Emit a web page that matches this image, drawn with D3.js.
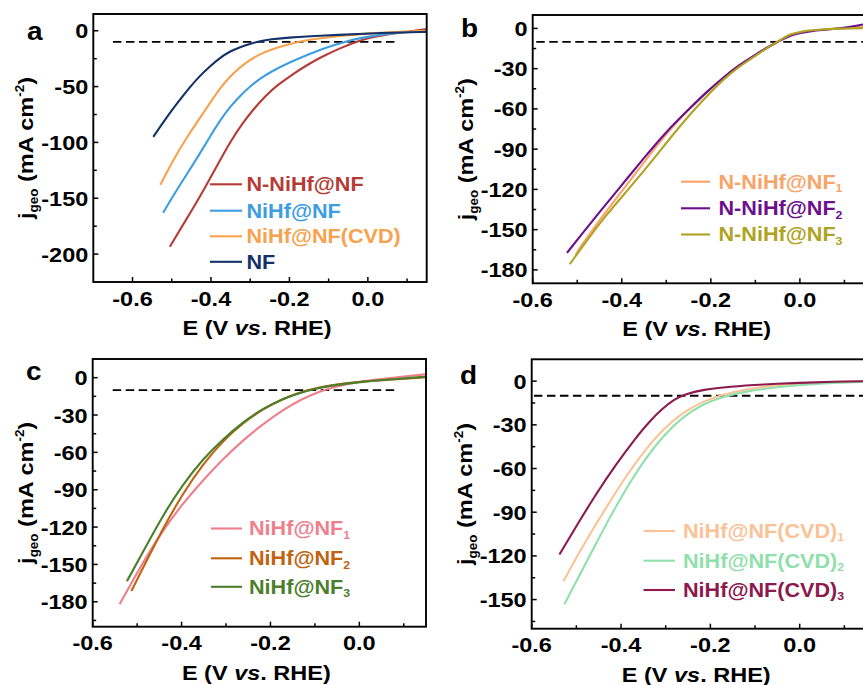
<!DOCTYPE html>
<html>
<head>
<meta charset="utf-8">
<script src="https://cdn.jsdelivr.net/npm/d3@7"></script>
<style>
  html, body { margin: 0; padding: 0; background: #fff; }
  svg { display: block; }
</style>
</head>
<body>
<svg id="chart" width="863" height="685"></svg>
<script>
// ---------------- data: LSV curves, E (V vs. RHE) vs j_geo (mA cm^-2) ----------------
const xTicksA = [-0.6, -0.4, -0.2, 0.0];
const xTicksBCD = [-0.6, -0.4, -0.2, 0.0];
const yTicksA = [0, -50, -100, -150, -200];
const yTicksB = [0, -30, -60, -90, -120, -150, -180];
const yTicksC = [0, -30, -60, -90, -120, -150, -180];
const yTicksD = [0, -30, -60, -90, -120, -150];

// panel a
const labelsA = ["N-NiHf@NF", "NiHf@NF", "NiHf@NF(CVD)", "NF"];
const a_NNiHfNF = [[-0.505,-193.5],[-0.47,-173],[-0.437,-154],[-0.405,-134],[-0.377,-116],[-0.35,-99],[-0.32,-83],[-0.29,-69.5],[-0.26,-58],[-0.232,-49],[-0.19,-38.5],[-0.15,-29.5],[-0.11,-22],[-0.07,-15.5],[-0.035,-10.5],[0,-6.5],[0.04,-3.8],[0.08,-1.8],[0.12,0],[0.15,1.5]];
const a_NiHfNF = [[-0.522,-163],[-0.49,-144],[-0.454,-124.5],[-0.42,-105],[-0.394,-90],[-0.377,-80.5],[-0.352,-68.4],[-0.325,-58],[-0.301,-50],[-0.275,-43],[-0.249,-37],[-0.198,-28],[-0.147,-20.5],[-0.105,-14.8],[-0.06,-10],[-0.02,-6.5],[0.03,-3.5],[0.09,-1.5],[0.15,0]];
const a_NiHfNFCVD = [[-0.529,-138],[-0.497,-116],[-0.465,-97.5],[-0.437,-82.5],[-0.403,-65],[-0.378,-52],[-0.352,-41],[-0.325,-32.5],[-0.301,-26],[-0.275,-21],[-0.249,-17],[-0.198,-11.5],[-0.147,-7.8],[-0.071,-4.5],[0,-2.5],[0.057,-1.2],[0.15,0]];
const a_NF = [[-0.547,-95],[-0.522,-82],[-0.49,-66.5],[-0.454,-50.5],[-0.43,-41],[-0.403,-32],[-0.378,-24.5],[-0.352,-18.5],[-0.325,-14.5],[-0.301,-11.7],[-0.275,-9.3],[-0.249,-7.7],[-0.198,-5.9],[-0.113,-4.3],[0,-2.6],[0.057,-1.7],[0.15,-1]];

// panel b
const labelsB = ["N-NiHf@NF", "N-NiHf@NF", "N-NiHf@NF"];
const subsB = ["1", "2", "3"];
const b_run1 = [[-0.504,-169],[-0.493,-163],[-0.46,-147.5],[-0.42,-130],[-0.37,-108.5],[-0.33,-91],[-0.295,-76.5],[-0.247,-59.5],[-0.21,-47.5],[-0.172,-36.5],[-0.135,-27],[-0.097,-19],[-0.072,-14],[-0.052,-10.3],[-0.036,-6.8],[-0.022,-4.5],[0,-2.6],[0.03,-1.4],[0.09,0],[0.15,1.5]];
const b_run2 = [[-0.523,-167.3],[-0.49,-153.5],[-0.455,-139],[-0.403,-118],[-0.35,-96.5],[-0.299,-76.5],[-0.247,-59.5],[-0.21,-47.5],[-0.172,-36.5],[-0.135,-27],[-0.097,-19],[-0.072,-14],[-0.052,-10.5],[-0.035,-7.5],[-0.018,-5],[0,-3.3],[0.03,-1.8],[0.06,-0.9],[0.1,0.3],[0.15,3.5]];
const b_run3 = [[-0.517,-175.8],[-0.48,-159],[-0.44,-141],[-0.38,-118],[-0.33,-98],[-0.285,-79],[-0.24,-61.5],[-0.205,-49],[-0.172,-38],[-0.135,-28],[-0.097,-19.8],[-0.072,-14.2],[-0.052,-10.5],[-0.036,-7],[-0.022,-4.5],[0,-2.5],[0.03,-1.2],[0.09,0],[0.15,0.3]];

// panel c
const labelsC = ["NiHf@NF", "NiHf@NF", "NiHf@NF"];
const subsC = ["1", "2", "3"];
const c_run1 = [[-0.5395,-182],[-0.513,-165],[-0.487,-148.5],[-0.442,-122.5],[-0.397,-101],[-0.351,-82],[-0.306,-65],[-0.261,-50],[-0.216,-37],[-0.171,-25.8],[-0.133,-17.8],[-0.095,-11.8],[-0.058,-7.4],[0,-3.2],[0.05,-1],[0.1,1],[0.15,2.7]];
const c_run2 = [[-0.513,-171.3],[-0.487,-153],[-0.442,-121],[-0.397,-93],[-0.351,-69],[-0.306,-50.5],[-0.261,-36],[-0.216,-25],[-0.171,-16.8],[-0.133,-11.6],[-0.095,-8.2],[-0.058,-5.8],[0,-3.2],[0.075,-1.4],[0.15,0.3]];
const c_run3 = [[-0.523,-163.5],[-0.487,-140],[-0.442,-110.5],[-0.397,-85.5],[-0.351,-65],[-0.306,-49],[-0.261,-35.5],[-0.216,-24.6],[-0.171,-16.8],[-0.133,-12],[-0.095,-8.5],[-0.058,-6],[0,-3.5],[0.075,-1.3],[0.15,0.8]];

// panel d
const labelsD = ["NiHf@NF(CVD)", "NiHf@NF(CVD)", "NiHf@NF(CVD)"];
const subsD = ["1", "2", "3"];
const d_run1 = [[-0.529,-137.4],[-0.486,-113.4],[-0.441,-90.6],[-0.396,-68.5],[-0.351,-49],[-0.306,-33],[-0.262,-21.5],[-0.217,-13.9],[-0.172,-9.2],[-0.12,-5.6],[-0.06,-3],[0,-1.6],[0.075,-0.6],[0.15,0]];
const d_run2 = [[-0.527,-153.3],[-0.486,-129.4],[-0.441,-102.5],[-0.396,-77.5],[-0.351,-55.5],[-0.306,-37.5],[-0.262,-24.5],[-0.217,-15.8],[-0.172,-10.6],[-0.12,-7],[-0.06,-4.5],[0,-2.5],[0.075,-1.2],[0.15,-0.5]];
const d_run3 = [[-0.538,-119.1],[-0.501,-100],[-0.456,-77.5],[-0.411,-57],[-0.366,-38.5],[-0.336,-27.5],[-0.306,-18.5],[-0.281,-12.5],[-0.256,-8.8],[-0.217,-5.9],[-0.157,-3.7],[-0.08,-2.2],[0,-1.1],[0.075,-0.4],[0.15,0]];

const refCurrent = -10;   // 10 mA cm^-2 reference level

// ---------------- layout ----------------
const FONT = "'Liberation Sans', Arial, Helvetica, sans-serif";
const STRETCH = 1.12;

const panels = [
  { letter: "a", box: [93.3, 14, 426.7, 282], xDom: [-0.7, 0.15], yDom: [-225, 15],
    xTicks: xTicksA, xMinor: [-0.5, -0.3, -0.1, 0.1], yTicks: yTicksA, yMinor: [-25, -75, -125, -175],
    dash: [-0.65, 0.075], letterPos: [27, 40],
    series: [a_NNiHfNF, a_NiHfNF, a_NiHfNFCVD, a_NF],
    colors: ["#b63b36", "#3d9de1", "#f7a24e", "#14316a"],
    labels: labelsA, subs: null,
    legend: { x1: 210, x2: 242, tx: 246.5, y: [184.3, 210.7, 236.3, 261.8] } },
  { letter: "b", box: [532.7, 15, 866.7, 283.3], xDom: [-0.6, 0.15], yDom: [-190, 10],
    xTicks: xTicksBCD, xMinor: [-0.5, -0.3, -0.1, 0.1], yTicks: yTicksB, yMinor: [-15, -45, -75, -105, -135, -165],
    dash: [-0.592, 0.15], letterPos: [461, 36.5],
    series: [b_run1, b_run2, b_run3],
    colors: ["#f8a468", "#6c0f8d", "#afa323"],
    labels: labelsB, subs: subsB,
    legend: { x1: 681, x2: 710, tx: 718.5, y: [181.7, 208.3, 234.5] } },
  { letter: "c", box: [92.7, 359, 426, 626.7], xDom: [-0.6, 0.15], yDom: [-200, 15],
    xTicks: xTicksBCD, xMinor: [-0.5, -0.3, -0.1, 0.1], yTicks: yTicksC, yMinor: [-15, -45, -75, -105, -135, -165, -195],
    dash: [-0.555, 0.08], letterPos: [26, 380],
    series: [c_run1, c_run2, c_run3],
    colors: ["#ef7f8d", "#c1620e", "#4b7f2c"],
    labels: labelsC, subs: subsC,
    legend: { x1: 211, x2: 242, tx: 249, y: [528.5, 558.3, 586.8] } },
  { letter: "d", box: [531.7, 359.3, 866.7, 628.7], xDom: [-0.6, 0.15], yDom: [-170, 15],
    xTicks: xTicksBCD, xMinor: [-0.5, -0.3, -0.1, 0.1], yTicks: yTicksD, yMinor: [-15, -45, -75, -105, -135, -165],
    dash: [-0.595, 0.15], letterPos: [460, 383.5],
    series: [d_run1, d_run2, d_run3],
    colors: ["#fbc297", "#90e0ab", "#8c1a4d"],
    labels: labelsD, subs: subsD,
    legend: { x1: 643.5, x2: 675, tx: 683, y: [531, 560.7, 590] } }
];

const svg = d3.select("#chart");
svg.append("rect").attr("width", 863).attr("height", 685).attr("fill", "#fff");

// text drawn slightly wide, like the bold sans used in the figure
function wideText(parent, x, y, size, anchor, rotate) {
  const g = parent.append("g")
    .attr("transform", `translate(${x},${y}) rotate(${rotate || 0}) scale(${STRETCH},1)`);
  return g.append("text")
    .attr("x", 0).attr("y", 0)
    .attr("font-family", FONT).attr("font-weight", "bold")
    .attr("font-size", size).attr("text-anchor", anchor || "start");
}

const fmtX = v => v.toFixed(1);
const fmtY = v => String(v);

panels.forEach(p => {
  const [L, T, R, B] = p.box;
  const x = d3.scaleLinear().domain(p.xDom).range([L, R]);
  const y = d3.scaleLinear().domain(p.yDom).range([B, T]);
  const g = svg.append("g");

  const clipId = "clip-" + p.letter;
  g.append("clipPath").attr("id", clipId)
    .append("rect").attr("x", L).attr("y", T).attr("width", R - L).attr("height", B - T);

  // reference dashed line at -10 mA cm^-2
  g.append("line")
    .attr("x1", x(p.dash[0])).attr("x2", x(p.dash[1]))
    .attr("y1", y(refCurrent)).attr("y2", y(refCurrent))
    .attr("stroke", "#000").attr("stroke-width", 1.9)
    .attr("stroke-dasharray", "8.5,4.5");

  // curves
  const line = d3.line().x(d => x(d[0])).y(d => y(d[1])).curve(d3.curveBasis);
  const curves = g.append("g").attr("clip-path", `url(#${clipId})`);
  p.series.forEach((s, i) => {
    curves.append("path").datum(s)
      .attr("d", line)
      .attr("fill", "none")
      .attr("stroke", p.colors[i])
      .attr("stroke-width", 2.1)
      .attr("stroke-linejoin", "round");
  });

  // frame
  g.append("rect").attr("x", L).attr("y", T).attr("width", R - L).attr("height", B - T)
    .attr("fill", "none").attr("stroke", "#000").attr("stroke-width", 1.9);

  // inward ticks
  const tk = g.append("g").attr("stroke", "#000").attr("stroke-width", 1.5);
  p.xTicks.forEach(v => tk.append("line").attr("x1", x(v)).attr("x2", x(v)).attr("y1", B).attr("y2", B - 5));
  p.xMinor.forEach(v => tk.append("line").attr("x1", x(v)).attr("x2", x(v)).attr("y1", B).attr("y2", B - 3.5));
  p.yTicks.forEach(v => tk.append("line").attr("x1", L).attr("x2", L + 5).attr("y1", y(v)).attr("y2", y(v)));
  p.yMinor.forEach(v => tk.append("line").attr("x1", L).attr("x2", L + 3.5).attr("y1", y(v)).attr("y2", y(v)));

  // tick labels
  p.xTicks.forEach(v => wideText(g, x(v), B + 23.5, 21, "middle").text(fmtX(v)));
  p.yTicks.forEach(v => wideText(g, L - 5, y(v) + 7.5, 21, "end").text(fmtY(v)));

  // axis titles
  const xt = wideText(g, (L + Math.min(R, 866.7)) / 2 - 3, B + 53, 21, "middle");
  xt.append("tspan").text("E (V ");
  xt.append("tspan").attr("font-style", "italic").text("vs");
  xt.append("tspan").text(". RHE)");

  const yt = wideText(g, L - 60, (T + B) / 2, 21, "middle", -90);
  yt.append("tspan").text("j");
  yt.append("tspan").attr("font-size", 12).attr("dy", 5).text("geo");
  yt.append("tspan").attr("dy", -5).text(" (mA cm");
  yt.append("tspan").attr("font-size", 12).attr("dy", -9).text("-2");
  yt.append("tspan").attr("dy", 9).text(")");

  // panel letter
  wideText(g, p.letterPos[0], p.letterPos[1], 25, "start").text(p.letter);

  // legend
  const lg = p.legend;
  p.labels.forEach((lab, i) => {
    const ly = lg.y[i];
    g.append("line").attr("x1", lg.x1).attr("x2", lg.x2).attr("y1", ly).attr("y2", ly)
      .attr("stroke", p.colors[i]).attr("stroke-width", 2.1);
    const t = wideText(g, lg.tx, ly + 6.8, 19.3, "start").attr("fill", p.colors[i]);
    t.append("tspan").text(lab);
    if (p.subs) t.append("tspan").attr("font-size", 11).attr("dy", 3.5).text(p.subs[i]);
  });
});
</script>
</body>
</html>
